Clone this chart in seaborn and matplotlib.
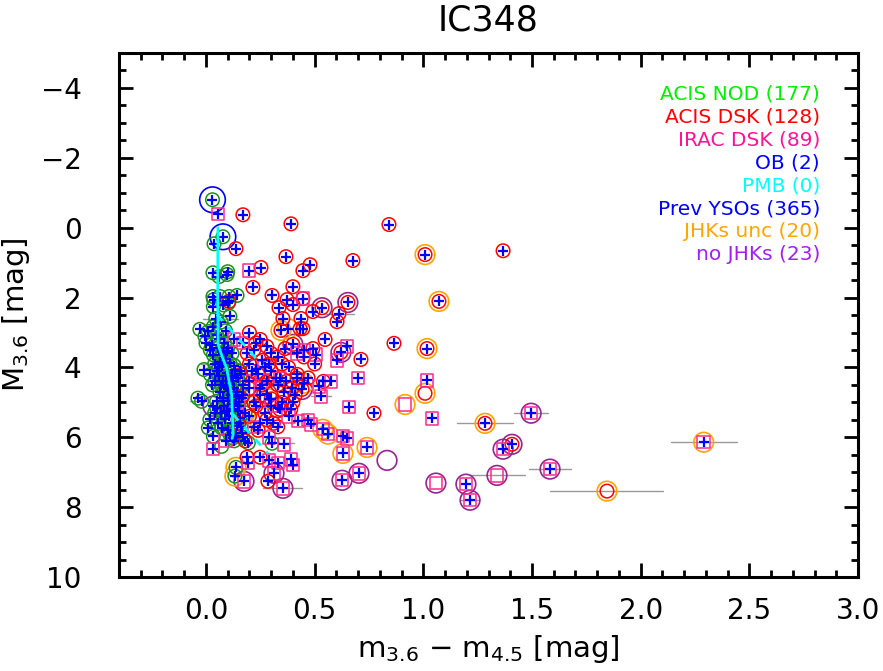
import numpy as np
import pandas as pd
import matplotlib
matplotlib.use("Agg")
import matplotlib.pyplot as plt
import seaborn as sns
from matplotlib.ticker import MultipleLocator, FormatStrFormatter

# ---------------- data ----------------
# ACIS NOD (green circles)
nod_x = [0.03, 0.078, 0.037, 0.032, 0.06, 0.10, 0.097, 0.032, 0.035, 0.064, 0.106, 0.143, 0.11,
         0.034, 0.08, 0.103, -0.028, -0.005, 0.011, 0.034, 0.049, 0.026, 0.055, 0.072, 0.095,
         0.034, 0.064, 0.11, -0.009, 0.049, 0.095, 0.133, 0.041, 0.08, 0.126, 0.147, 0.064,
         0.103, 0.141, -0.037, -0.02, 0.049, 0.08, 0.164, 0.049, 0.095, 0.149, 0.018, 0.087,
         0.011, 0.072, 0.141, 0.034, 0.11, 0.195, 0.072, 0.124, 0.164, 0.304, 0.138, 0.133,
         0.06, 0.085, 0.10, 0.075, 0.12, 0.09, 0.115, 0.13, 0.105, 0.12, 0.155, 0.09, 0.06,
         0.10, 0.14,
         0.0, 0.02, 0.04, 0.06, 0.07, 0.11, 0.13, 0.03, 0.02, 0.15, 0.16, 0.18, 0.12, 0.085,
         0.10, 0.13, 0.07, 0.055, 0.04, 0.12, 0.13, 0.08, 0.09, 0.14, 0.17, 0.155, 0.17,
         0.045, 0.07, 0.09]
nod_y = [-0.8, 0.26, 0.46, 1.29, 1.4, 1.26, 1.34, 1.97, 2.06, 1.97, 1.97, 1.94, 2.54,
         2.26, 2.21, 2.16, 2.91, 3.11, 2.97, 2.83, 3.06, 3.35, 3.45, 3.64, 3.54,
         3.64, 3.83, 3.88, 4.06, 4.11, 4.16, 4.06, 4.4, 4.4, 4.4, 4.31, 4.69,
         4.63, 4.69, 4.88, 4.97, 4.97, 4.88, 4.88, 5.16, 5.26, 5.26, 5.49, 5.49,
         5.73, 5.73, 5.69, 5.97, 5.92, 6.16, 6.26, 6.02, 5.88, 6.17, 6.86, 7.11,
         3.2, 3.3, 3.45, 3.95, 4.25, 4.55, 4.8, 5.05, 5.4, 5.6, 5.45, 3.75, 4.25,
         4.95, 5.95,
         3.3, 3.5, 3.9, 4.0, 4.5, 4.4, 4.6, 4.5, 4.2, 5.1, 5.7, 5.3, 5.2, 5.1,
         5.8, 6.1, 5.3, 5.6, 5.3, 3.6, 3.95, 3.6, 4.25, 4.85, 4.5, 4.1, 6.0,
         2.6, 2.7, 2.95]

# ACIS DSK (red circles)
dsk_x = [0.17, 0.391, 0.842, 1.367, 0.138, 0.253, 0.368, 0.479, 0.446, 0.676, 0.216, 0.40,
         0.304, 0.373, 0.40, 0.446, 0.336, 0.492, 0.534, 0.653, 0.612, 0.603, 0.437, 0.354,
         0.433, 0.446, 0.345, 0.106, 0.492, 0.548, 0.40, 0.364, 0.865, 0.713, 0.621, 1.008,
         1.072, 1.017, 1.008, 0.773, 0.442, 0.396, 0.419, 0.189, 0.249, 0.285, 1.408, 1.284,
         1.845,
         0.20, 0.25, 0.28, 0.22, 0.30, 0.33, 0.26, 0.20, 0.35, 0.38, 0.30, 0.24, 0.42, 0.28,
         0.33, 0.20, 0.36, 0.25, 0.30, 0.22, 0.40, 0.34, 0.27, 0.20, 0.31, 0.24, 0.18, 0.45,
         0.50, 0.47, 0.54, 0.15, 0.17, 0.16,
         0.23, 0.29, 0.32, 0.37, 0.26, 0.35, 0.39, 0.28, 0.33, 0.23, 0.41, 0.21, 0.19]
dsk_y = [-0.37, -0.11, -0.09, 0.66, 0.6, 1.14, 0.83, 1.06, 1.23, 0.94, 1.71, 1.69,
         1.94, 2.06, 2.2, 2.03, 2.29, 2.4, 2.29, 2.14, 2.46, 2.69, 2.6, 2.6,
         2.89, 2.89, 2.94, 2.11, 3.46, 3.2, 3.34, 3.46, 3.31, 3.77, 3.57, 0.77,
         2.11, 3.46, 4.74, 5.31, 4.63, 4.6, 4.31, 6.57, 6.57, 7.26, 6.2, 5.6,
         7.54,
         3.0, 3.2, 3.4, 3.5, 3.6, 3.7, 3.8, 3.9, 3.9, 4.0, 4.1, 4.2, 4.2, 4.4,
         4.5, 4.6, 4.7, 4.8, 4.9, 5.0, 5.0, 5.2, 5.3, 5.4, 5.6, 5.8, 6.1, 3.7,
         3.9, 4.3, 4.4, 5.6, 4.8, 4.2,
         3.3, 3.9, 4.3, 4.4, 4.5, 5.0, 5.2, 5.5, 5.7, 5.1, 4.8, 4.1, 3.6]

# IRAC DSK (pink squares)
irac_x = [0.055, 0.198, 0.446, 0.649, 0.603, 0.70, 0.575, 0.52, 0.529, 0.451, 0.506, 0.658,
          1.017, 1.04, 0.469, 0.483, 0.423, 0.538, 0.561, 0.63, 0.649, 0.741, 0.63, 0.032,
          0.193, 0.29, 0.313, 0.331, 0.391, 0.40, 0.354, 0.175, 0.626, 0.704, 1.367, 1.496,
          1.583, 1.339, 1.058, 1.196, 1.215, 2.29, 0.916,
          0.13, 0.17, 0.27, 0.34, 0.42, 0.20, 0.25, 0.15, 0.30, 0.38, 0.22, 0.29, 0.09, 0.36]
irac_y = [-0.4, 1.23, 2.03, 3.4, 3.8, 4.31, 4.4, 4.54, 4.83, 3.51, 3.63, 5.14,
          4.37, 5.46, 5.51, 5.63, 5.54, 5.77, 5.91, 5.97, 6.03, 6.29, 6.46, 6.34,
          6.74, 6.66, 7.03, 6.74, 6.63, 6.8, 7.46, 7.26, 7.23, 7.03, 6.34, 5.31,
          6.91, 7.09, 7.31, 7.34, 7.8, 6.14, 5.06,
          3.2, 3.3, 4.0, 4.3, 3.6, 4.4, 4.6, 5.0, 5.1, 5.4, 5.7, 6.0, 6.1, 6.2]

# OB (big blue circles)
ob_x = [0.03, 0.078]
ob_y = [-0.8, 0.26]

# JHKs unc (orange circles)
jhk_x = [1.008, 1.072, 1.017, 1.008, 0.916, 1.284, 1.845, 2.29, 0.345, 0.377, 0.538, 0.561,
         0.741, 0.63, 0.138, 0.133, 0.29, 0.25, 0.18, 0.45]
jhk_y = [0.77, 2.11, 3.46, 4.74, 5.06, 5.6, 7.54, 6.14, 2.94, 2.89, 5.77, 5.91,
         6.29, 6.46, 6.86, 7.11, 4.9, 5.6, 5.3, 4.45]

# no JHKs (purple circles)
nojhk_x = [0.534, 0.653, 0.40, 0.621, 0.442, 0.032, 1.408, 1.367, 1.496, 1.583, 1.339, 1.058,
           1.196, 1.215, 0.313, 0.354, 0.175, 0.626, 0.704, 0.833, 0.28, 0.33, 0.23]
nojhk_y = [2.29, 2.14, 3.34, 3.57, 4.63, 5.11, 6.2, 6.34, 5.31, 6.91, 7.09, 7.31,
           7.34, 7.8, 7.03, 7.46, 7.26, 7.23, 7.03, 6.66, 4.75, 5.15, 4.05]

# sources without a "Prev YSO" cross
nocross_x = [1.008, 0.916, 1.339, 1.058, 1.845, 0.833, 0.072]
nocross_y = [4.74, 5.06, 7.09, 7.31, 7.54, 6.66, 6.26]

# horizontal colour errors (grey bars)
err_x = [1.284, 1.845, 2.29, 1.496, 1.583, 1.339, 1.215, 0.529, 0.354, 0.612, 0.066, -0.04, 0.37, 0.01]
err_y = [5.6, 7.54, 6.14, 5.31, 6.91, 7.09, 7.8, 4.83, 7.46, 2.46, 2.6, 4.97, 6.17, 3.89]
err_dx = [0.129, 0.26, 0.152, 0.078, 0.097, 0.131, 0.041, 0.046, 0.09, 0.07, 0.08, 0.035, 0.035, 0.035]

# isochrone and reddening vectors (cyan)
iso_x = [0.055, 0.054, 0.056, 0.075, 0.095, 0.118, 0.125, 0.12]
iso_y = [0.0, 2.11, 3.35, 3.7, 4.02, 4.78, 5.92, 6.03]
vec1_x = [0.05, 0.235]
vec1_y = [2.49, 3.77]
vec2_x = [0.124, 0.285]
vec2_y = [5.34, 6.46]

legend_labels = ["ACIS NOD (177)", "ACIS DSK (128)", "IRAC DSK (89)", "OB (2)", "PMB (0)",
                 "Prev YSOs (365)", "JHKs unc (20)", "no JHKs (23)"]
legend_colors = ["#00ee00", "#ff0000", "#ff1493", "#0000ff", "#00ffff", "#0000ff",
                 "#ffa500", "#a020f0"]

# ---------------- figure ----------------
sns.set_theme(style="white")
plt.rcParams['font.family'] = ['DejaVu Sans']
fig = plt.figure(figsize=(8.83, 6.71), dpi=100)
ax = fig.add_axes([0.1348, 0.140, 0.8369, 0.781])

# error bars
for xc, yc, dx in zip(err_x, err_y, err_dx):
    sns.lineplot(x=[xc - dx, xc + dx], y=[yc, yc], color="#999999", lw=1.0, ax=ax,
                 sort=False, estimator=None, zorder=1)

def rings(xs, ys, marker, size, color, lw, z):
    sns.scatterplot(x=xs, y=ys, marker=marker, s=size, facecolors="none",
                    edgecolor=color, linewidth=lw, ax=ax, zorder=z, legend=False)

rings(nojhk_x, nojhk_y, "o", 200, "#93278f", 1.2, 3)
rings(jhk_x, jhk_y, "o", 200, "#ffa500", 1.2, 3)
rings(ob_x, ob_y, "o", 340, "#0000ff", 1.2, 3)
rings(nod_x, nod_y, "o", 95, "#1f8f1f", 1.1, 4)
rings(dsk_x, dsk_y, "o", 95, "#ff0000", 1.1, 4)
rings(irac_x, irac_y, "s", 80, "#ff2a8a", 1.1, 4)

# Prev YSO crosses at every source except the flagged ones
all_x = nod_x + dsk_x + irac_x + jhk_x + nojhk_x
all_y = nod_y + dsk_y + irac_y + jhk_y + nojhk_y
skip = {(round(a, 3), round(b, 3)) for a, b in zip(nocross_x, nocross_y)}
cx, cy = [], []
seen = set()
for a, b in zip(all_x, all_y):
    k = (round(a, 3), round(b, 3))
    if k in skip or k in seen:
        continue
    seen.add(k)
    cx.append(a)
    cy.append(b)
sns.scatterplot(x=cx, y=cy, marker="+", s=50, color="#0000ff", linewidth=1.6, ax=ax,
                zorder=5, legend=False)

# isochrone on top
sns.lineplot(x=iso_x, y=iso_y, color="#00ffff", lw=2.0, ax=ax, sort=False, estimator=None, zorder=6)
for vx, vy in [(vec1_x, vec1_y), (vec2_x, vec2_y)]:
    sns.lineplot(x=vx, y=vy, color="#00ffff", lw=2.0, ax=ax, sort=False, estimator=None,
                 zorder=6, linestyle=(0, (3, 3)))

# axes
ax.set_xlim(-0.4, 3.0)
ax.set_ylim(10, -5)
ax.xaxis.set_major_locator(MultipleLocator(0.5))
ax.xaxis.set_minor_locator(MultipleLocator(0.1))
ax.xaxis.set_major_formatter(FormatStrFormatter("%.1f"))
ax.yaxis.set_major_locator(MultipleLocator(2))
ax.yaxis.set_minor_locator(MultipleLocator(0.5))
ax.tick_params(which="both", direction="in", top=True, right=True, bottom=True, left=True,
               colors="black", labelcolor="black", width=2.0)
ax.tick_params(which="major", length=10)
ax.tick_params(which="minor", length=5)
ax.tick_params(axis="x", which="major", labelsize=20, pad=14)
ax.tick_params(axis="y", which="major", labelsize=20, pad=27)
for sp in ax.spines.values():
    sp.set_linewidth(2.2)
    sp.set_color("black")

ax.set_xlabel(r"m$_{3.6}$ $-$ m$_{4.5}$ [mag]", fontsize=21, labelpad=6, color="black")
ax.set_ylabel(r"M$_{3.6}$ [mag]", fontsize=21, labelpad=6, color="black")
ax.set_title("IC348", fontsize=25, pad=16, color="black")

for i, (lab, col) in enumerate(zip(legend_labels, legend_colors)):
    ax.text(0.9486, 0.922 - i * 0.0439, lab, color=col, fontsize=14.5, ha="right",
            va="center", transform=ax.transAxes)

fig.savefig("out.png", dpi=100)
